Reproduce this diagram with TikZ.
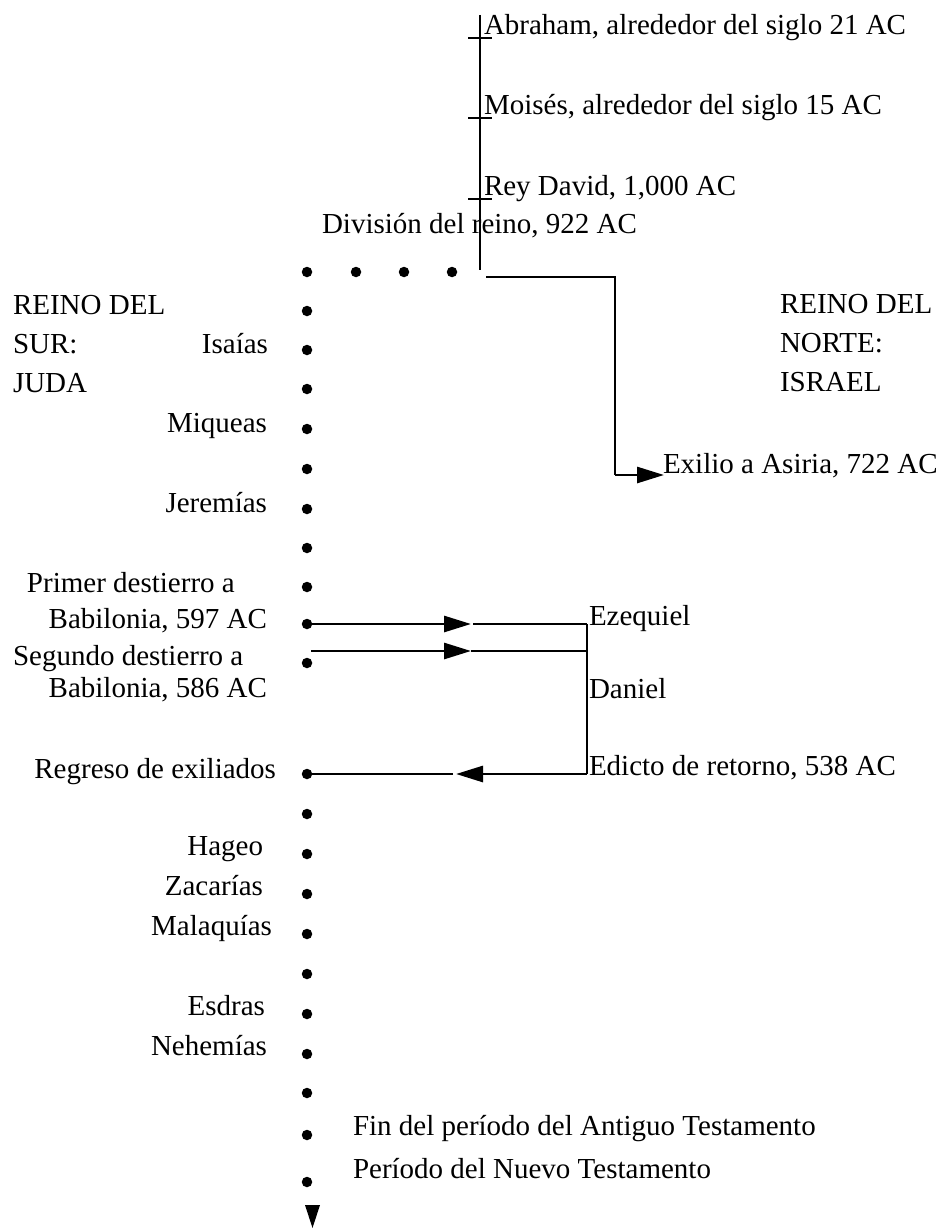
\documentclass[tikz,border=0pt]{standalone}
\usepackage{fontspec}
\setmainfont{Liberation Serif}
\usetikzlibrary{arrows.meta}
\begin{document}
\begin{tikzpicture}[x=1pt,y=-1pt,
  every node/.style={font=\fontsize{29}{34}\selectfont, inner sep=0pt, outer sep=0pt},
  dot/.style={circle, fill=black, minimum size=10.5pt, inner sep=0pt},
  ln/.style={line width=2.8pt},
  arr/.style={ln, -{Triangle[length=27pt,width=16pt]}},
  rl/.style={anchor=mid east},
  ll/.style={anchor=mid west},
  bl/.style={anchor=base west}]
\fill[white] (0,0) rectangle (939,1228);
\useasboundingbox (0,0) rectangle (939,1228);

% top timeline
\coordinate (t0) at (480,15);
\coordinate (t1) at (480,270);
\foreach \y/\n in {38/a,118/b,199/c}{
  \coordinate (tk\n l) at (468,\y);
  \coordinate (tk\n r) at (492,\y);
  \draw[ln] (tk\n l) -- (tk\n r);
}
\node[bl] (abr) at (484,35) {Abraham, alrededor del siglo 21 AC};
\node[bl] (moi) at (484,115) {Moisés, alrededor del siglo 15 AC};
\node[bl] (dav) at (484,195) {Rey David, 1,000 AC};
\node[bl] (div) at (322,233) {División del reino, 922 AC};
\draw[ln] (t0) -- (t1);

% horizontal dots
\node[dot] (h1) at (356,272) {};
\node[dot] (h2) at (404,272) {};
\node[dot] (h3) at (452,272) {};

% dot column
\foreach \i/\y in {0/272,1/311,2/350,3/389,4/429,5/469,6/509,7/548,8/587,9/624,10/663,13/774,14/814,15/854,16/894,17/934,18/974,19/1014,20/1054,21/1093,22/1135,23/1182}{
  \node[dot] (d\i) at (307,\y) {};
}
\fill (305,1205) -- (320,1205) -- (312.5,1228) -- cycle;

% north kingdom
\coordinate (n0) at (486,277);
\coordinate (n1) at (615,277);
\coordinate (n2) at (615,475);
\coordinate (n3) at (664,475);
\draw[ln] (n0) -- (n1) -- (n2);
\draw[arr] (n2) -- (n3);
\node[bl] (exi) at (663,473) {Exilio a Asiria, 722 AC};

\node[ll] (rn1) at (780,311) {REINO DEL};
\node[ll] (rn2) at (780,350) {NORTE:};
\node[ll] (rn3) at (780,389) {ISRAEL};

\node[ll] (rs1) at (13,312) {REINO DEL};
\node[ll] (rs2) at (13,351) {SUR:};
\node[ll] (rs3) at (13,390) {JUDA};

\node[rl] (isa) at (268,351) {Isaías};
\node[rl] (miq) at (267,430) {Miqueas};
\node[rl] (jer) at (267,510) {Jeremías};
\node[ll] (pd1) at (27,590) {Primer destierro a};
\node[rl] (pd2) at (267,626) {Babilonia, 597 AC};
\node[ll] (sd1) at (13,663) {Segundo destierro a};
\node[rl] (sd2) at (267,695) {Babilonia, 586 AC};
\node[rl] (reg) at (276,776) {Regreso de exiliados};
\node[rl] (hag) at (263,853) {Hageo};
\node[rl] (zac) at (263,893) {Zacarías};
\node[rl] (mal) at (272,933) {Malaquías};
\node[rl] (esd) at (265,1013) {Esdras};
\node[rl] (neh) at (267,1053) {Nehemías};
\node[ll] (fin) at (353,1133) {Fin del período del Antiguo Testamento};
\node[ll] (per) at (353,1176) {Período del Nuevo Testamento};

% exile arrows
\coordinate (a1) at (471,624);
\coordinate (a1b) at (473,624);
\coordinate (e1) at (587,624);
\coordinate (s2) at (311,651);
\coordinate (a2) at (471,651);
\coordinate (e2) at (587,651);
\coordinate (e3) at (587,774);
\coordinate (a3) at (456,774);
\coordinate (a3b) at (453,774);
\draw[arr] (d9.center) -- (a1);
\draw[ln] (a1b) -- (e1);
\draw[arr] (s2) -- (a2);
\draw[ln] (a2) -- (e2);
\draw[ln] (e1) -- (e3);
\draw[arr] (e3) -- (a3);
\draw[ln] (a3b) -- (d13.center);

\node[bl] (eze) at (589,625) {Ezequiel};
\node[bl] (dan) at (589,698) {Daniel};
\node[bl] (edi) at (589,775) {Edicto de retorno, 538 AC};
\end{tikzpicture}
\end{document}
